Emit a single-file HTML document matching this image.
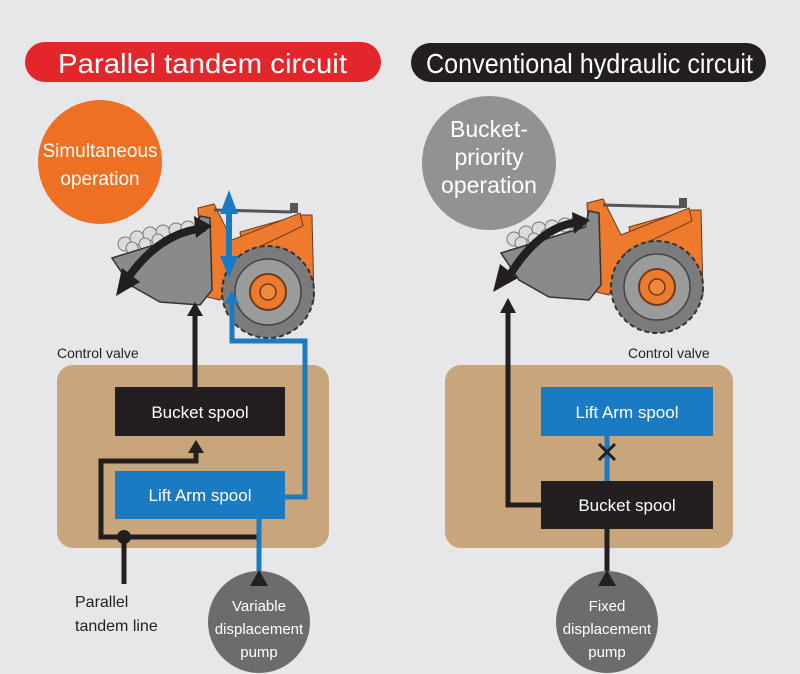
<!DOCTYPE html>
<html><head><meta charset="utf-8"><style>
body{margin:0;background:#e7e7e9;}
svg{display:block}
text{font-family:"Liberation Sans",Arial,sans-serif}
</style></head><body>
<svg width="800" height="674" viewBox="0 0 800 674" xmlns="http://www.w3.org/2000/svg">
<rect width="800" height="674" fill="#e7e7e9"/>
<defs>
<g id="loader">
  <polygon points="240,232 300,215 312,215 314,300 300,305 250,300" fill="#ee7a2e" stroke="#6b3a1a" stroke-width="1"/>
  <polygon points="198,208 214,204 232,240 300,213 303,226 236,258 220,300 203,296" fill="#ee7a2e" stroke="#6b3a1a" stroke-width="1"/>
  <line x1="214" y1="210" x2="292" y2="212" stroke="#555" stroke-width="3"/>
  <rect x="290" y="203" width="8" height="10" fill="#555"/>
  <g fill="#dcdcdc" stroke="#777" stroke-width="1">
    <circle cx="125" cy="244" r="7"/><circle cx="137" cy="238" r="7"/><circle cx="150" cy="234" r="7"/>
    <circle cx="163" cy="232" r="7"/><circle cx="176" cy="230" r="7"/><circle cx="188" cy="228" r="7"/>
    <circle cx="132" cy="248" r="6"/><circle cx="145" cy="244" r="6"/><circle cx="158" cy="240" r="6"/>
  </g>
  <polygon points="112,258 196,232 200,216 210,218 212,290 200,305 160,302 130,285" fill="#8a8a8a" stroke="#333" stroke-width="1.5"/>
  <circle cx="268" cy="292" r="46" fill="#7b7b7b" stroke="#333" stroke-width="2" stroke-dasharray="5 3"/>
  <circle cx="268" cy="292" r="33" fill="#9b9b9b" stroke="#444" stroke-width="1.5"/>
  <circle cx="268" cy="292" r="18" fill="#ee7a2e" stroke="#6b3a1a" stroke-width="2"/>
  <circle cx="268" cy="292" r="8" fill="#ef8a3c" stroke="#6b3a1a" stroke-width="1.5"/>
</g>
</defs>

<rect x="25" y="42" width="356" height="40" rx="20" fill="#e3262b"/>
<text x="58" y="73" font-size="28" fill="#fff" textLength="289" lengthAdjust="spacingAndGlyphs">Parallel tandem circuit</text>
<rect x="411" y="43" width="355" height="39" rx="19.5" fill="#231f20"/>
<text x="426" y="73" font-size="28" fill="#fff" textLength="327" lengthAdjust="spacingAndGlyphs">Conventional hydraulic circuit</text>

<circle cx="100" cy="162" r="62" fill="#ee7023"/>
<text x="100" y="157" font-size="19" fill="#fff" text-anchor="middle">Simultaneous</text>
<text x="100" y="185" font-size="19" fill="#fff" text-anchor="middle">operation</text>
<circle cx="489" cy="163" r="67" fill="#929294"/>
<text x="489" y="137" font-size="23" fill="#fff" text-anchor="middle">Bucket-</text>
<text x="489" y="165" font-size="23" fill="#fff" text-anchor="middle">priority</text>
<text x="489" y="193" font-size="23" fill="#fff" text-anchor="middle">operation</text>

<use href="#loader"/>
<use href="#loader" transform="translate(389,-5)"/>

<path d="M205,228 Q160,232 128,278" fill="none" stroke="#231f20" stroke-width="8"/>
<polygon points="116,296 122,268 140,282" fill="#231f20"/>
<polygon points="212,226 194,216 196,238" fill="#231f20"/>
<path d="M582,222 Q540,224 508,278" fill="none" stroke="#231f20" stroke-width="8"/>
<polygon points="493,292 500,264 518,278" fill="#231f20"/>
<polygon points="590,220 572,212 574,234" fill="#231f20"/>

<line x1="229" y1="208" x2="229" y2="262" stroke="#1b7bc2" stroke-width="6"/>
<polygon points="229,190 220,214 238,214" fill="#1b7bc2"/>
<polygon points="229,278 220,256 238,256" fill="#1b7bc2"/>

<text x="57" y="358" font-size="14" fill="#231f20">Control valve</text>
<text x="628" y="358" font-size="14" fill="#231f20">Control valve</text>

<rect x="57" y="365" width="272" height="183" rx="16" fill="#c8a57a"/>
<rect x="445" y="365" width="288" height="183" rx="16" fill="#c8a57a"/>

<polyline points="285,497 305,497 305,341 232,341 232,300" fill="none" stroke="#1b7bc2" stroke-width="5"/>
<polygon points="232,290 225,304 239,304" fill="#1b7bc2"/>
<line x1="195" y1="387" x2="195" y2="310" stroke="#231f20" stroke-width="5"/>
<polygon points="195,302 187,316 203,316" fill="#231f20"/>
<polyline points="259,537 101,537 101,461 196,461 196,452" fill="none" stroke="#231f20" stroke-width="5"/>
<polygon points="196,440 188,453 204,453" fill="#231f20"/>
<line x1="124" y1="537" x2="124" y2="584" stroke="#231f20" stroke-width="5"/>
<circle cx="124" cy="537" r="7" fill="#231f20"/>
<line x1="259" y1="519" x2="259" y2="572" stroke="#1b7bc2" stroke-width="5"/>
<rect x="115" y="387" width="170" height="49" fill="#231f20"/>
<text x="200" y="418" font-size="17" fill="#fff" text-anchor="middle">Bucket spool</text>
<rect x="115" y="471" width="170" height="48" fill="#1b7bc2"/>
<text x="200" y="501" font-size="17" fill="#fff" text-anchor="middle">Lift Arm spool</text>
<circle cx="259" cy="622" r="51" fill="#6c6c6e"/>
<polygon points="259,570 250,586 268,586" fill="#231f20"/>
<text x="259" y="611" font-size="15" fill="#fff" text-anchor="middle">Variable</text>
<text x="259" y="634" font-size="15" fill="#fff" text-anchor="middle">displacement</text>
<text x="259" y="657" font-size="15" fill="#fff" text-anchor="middle">pump</text>
<text x="75" y="607" font-size="16" fill="#231f20">Parallel</text>
<text x="75" y="631" font-size="16" fill="#231f20">tandem line</text>

<polyline points="541,505 508,505 508,310" fill="none" stroke="#231f20" stroke-width="5"/>
<polygon points="508,298 500,313 516,313" fill="#231f20"/>
<line x1="607" y1="436" x2="607" y2="481" stroke="#1b7bc2" stroke-width="5"/>
<line x1="599" y1="444" x2="615" y2="460" stroke="#231f20" stroke-width="3"/>
<line x1="615" y1="444" x2="599" y2="460" stroke="#231f20" stroke-width="3"/>
<line x1="607" y1="529" x2="607" y2="572" stroke="#231f20" stroke-width="5"/>
<rect x="541" y="387" width="172" height="49" fill="#1b7bc2"/>
<text x="627" y="418" font-size="17" fill="#fff" text-anchor="middle">Lift Arm spool</text>
<rect x="541" y="481" width="172" height="48" fill="#231f20"/>
<text x="627" y="511" font-size="17" fill="#fff" text-anchor="middle">Bucket spool</text>
<circle cx="607" cy="622" r="51" fill="#6c6c6e"/>
<polygon points="607,570 598,586 616,586" fill="#231f20"/>
<text x="607" y="611" font-size="15" fill="#fff" text-anchor="middle">Fixed</text>
<text x="607" y="634" font-size="15" fill="#fff" text-anchor="middle">displacement</text>
<text x="607" y="657" font-size="15" fill="#fff" text-anchor="middle">pump</text>
</svg>
</body></html>
